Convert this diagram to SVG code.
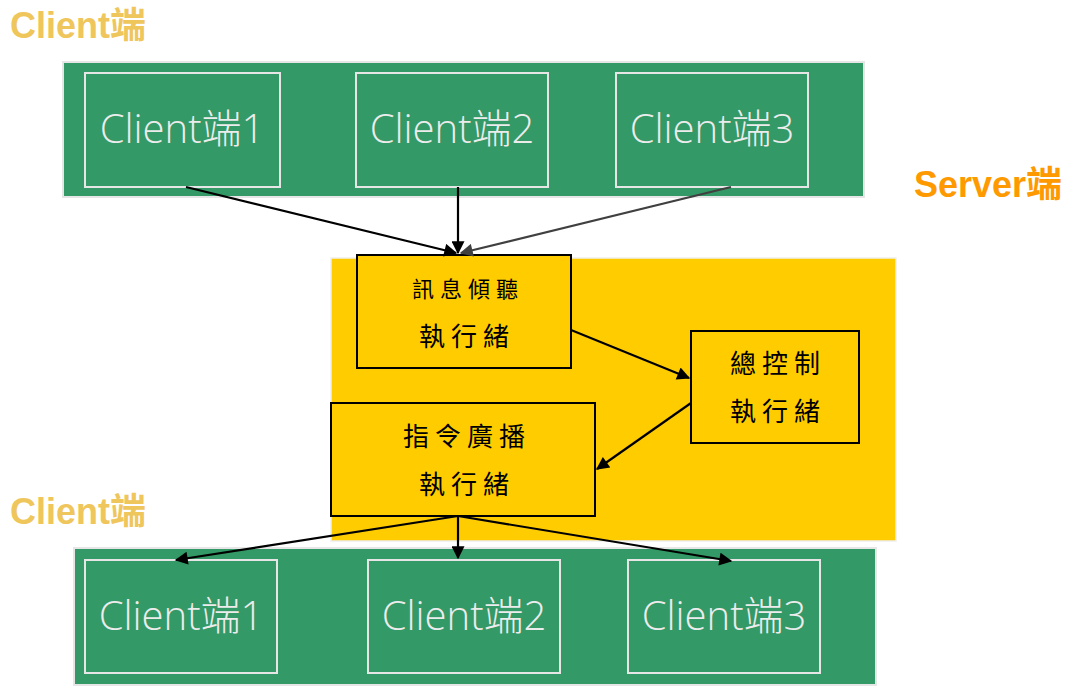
<svg xmlns="http://www.w3.org/2000/svg" width="1073" height="686" viewBox="0 0 1073 686">
<defs>
<style>
.band{fill:#339966;stroke:#e6e6e6;stroke-width:2}
.inner{fill:none;stroke:#e6e6e6;stroke-width:2}
.ct{font-family:"Open Sans","Noto Sans CJK TC",sans-serif;font-size:40px;font-weight:300;fill:#ececec;text-anchor:middle}
.th{fill:#ffcc00;stroke:#000;stroke-width:2}
.tt{font-family:"Noto Sans CJK TC",sans-serif;font-size:26px;fill:#000;text-anchor:middle;letter-spacing:6px}
.lab{font-family:"Liberation Sans","Noto Sans CJK TC",sans-serif;font-size:36px;font-weight:bold}
.cn line{stroke:#000;stroke-width:2.2;marker-end:url(#ah)}
</style>
<marker id="ah" viewBox="0 0 10 10" refX="9" refY="5" markerWidth="15" markerHeight="13" markerUnits="userSpaceOnUse" orient="auto"><path d="M0,0 L10,5 L0,10 z" fill="#000"/></marker>
<marker id="ahg" viewBox="0 0 10 10" refX="9" refY="5" markerWidth="15" markerHeight="13" markerUnits="userSpaceOnUse" orient="auto"><path d="M0,0 L10,5 L0,10 z" fill="#404040"/></marker>
</defs>
<text class="lab" x="10" y="38" fill="#efc65c">Client端</text>
<text class="lab" x="914" y="197" fill="#ff9900">Server端</text>
<text class="lab" x="10" y="524" fill="#efc65c">Client端</text>

<g id="top-band"><rect class="band" x="63" y="62" width="801" height="135"/></g>
<g id="server-band"><rect x="331" y="258" width="565" height="283" fill="#ffcc00" stroke="#eeeeee" stroke-width="1.5"/></g>
<g id="bottom-band"><rect class="band" x="74" y="548" width="802" height="137"/></g>

<g id="tc1"><rect class="inner" x="85" y="73" width="195" height="114"/><text class="ct" x="182" y="143">Client端1</text></g>
<g id="tc2"><rect class="inner" x="356" y="73" width="192" height="114"/><text class="ct" x="452" y="143">Client端2</text></g>
<g id="tc3"><rect class="inner" x="616" y="73" width="192" height="114"/><text class="ct" x="712" y="143">Client端3</text></g>

<g id="listen"><rect class="th" x="357" y="255" width="214" height="113"/><text class="tt" x="468" y="297" style="font-size:22px">訊息傾聽</text><text class="tt" x="467" y="346">執行緒</text></g>
<g id="control"><rect class="th" x="691" y="331" width="168" height="112"/><text class="tt" x="778" y="373">總控制</text><text class="tt" x="778" y="421">執行緒</text></g>
<g id="broadcast"><rect class="th" x="331" y="403" width="264" height="113"/><text class="tt" x="467" y="446">指令廣播</text><text class="tt" x="467" y="494">執行緒</text></g>

<g id="bc1"><rect class="inner" x="85" y="560" width="192" height="113"/><text class="ct" x="181" y="630">Client端1</text></g>
<g id="bc2"><rect class="inner" x="368" y="560" width="192" height="113"/><text class="ct" x="464" y="630">Client端2</text></g>
<g id="bc3"><rect class="inner" x="628" y="560" width="192" height="113"/><text class="ct" x="724" y="630">Client端3</text></g>

<g id="connectors" class="cn">
<line x1="186" y1="187" x2="456" y2="253"/>
<line x1="458" y1="187" x2="458" y2="253"/>
<line x1="731" y1="187" x2="461" y2="253" style="stroke:#404040;marker-end:url(#ahg)"/>
<line x1="571" y1="330" x2="689" y2="378"/>
<line x1="691" y1="403" x2="597" y2="469"/>
<line x1="458" y1="516" x2="176" y2="560"/>
<line x1="458" y1="516" x2="458" y2="558"/>
<line x1="458" y1="516" x2="731" y2="561"/>
</g>
</svg>
